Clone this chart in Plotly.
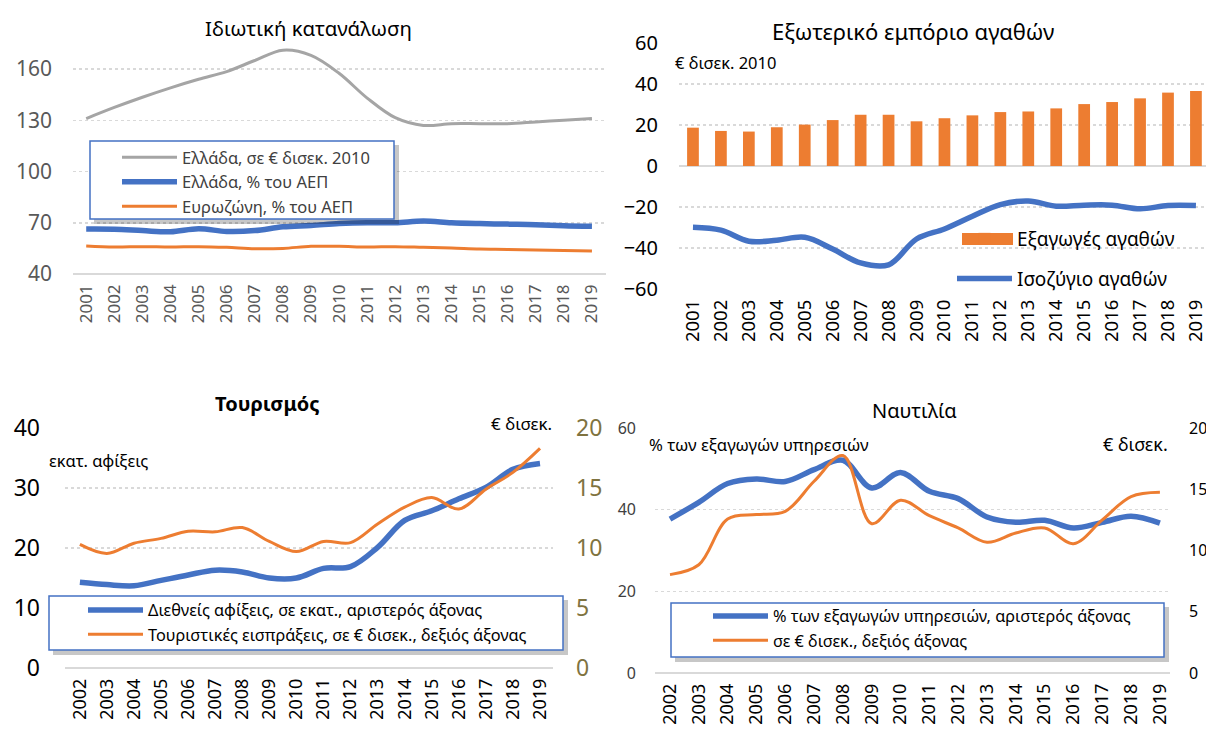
import plotly.graph_objects as go

# ---------------- data ----------------
years_a = list(range(2001, 2020))
years_b = list(range(2002, 2020))

cons_gr_eur = [131, 137.5, 143.5, 149, 154, 158.5, 165, 171, 168, 157.5, 143, 131.5, 127, 128, 128, 128, 129, 130, 131]
cons_gr_gdp = [66.3, 66.2, 65.4, 64.7, 66.5, 64.9, 65.4, 67.6, 68.4, 69.5, 70, 70, 71, 70, 69.5, 69.2, 68.9, 68.3, 68]
cons_ez_gdp = [56.4, 55.8, 56, 55.8, 56, 55.6, 54.8, 55, 56.2, 56.2, 55.8, 56, 55.6, 55.2, 54.6, 54.4, 54, 53.8, 53.4]

exports_goods = [18.7, 17.1, 16.8, 18.9, 20.2, 22.4, 25, 25, 21.8, 23.3, 24.7, 26.3, 26.6, 28.1, 30.2, 31.2, 33, 35.8, 36.6]
balance_goods = [-29.9, -31.3, -36.7, -36.2, -34.8, -40.5, -47.3, -48.2, -35.6, -30.7, -24.5, -18.8, -17.1, -19.6, -19.1, -19.1, -20.9, -19.3, -19.3]

tour_arrivals = [14.3, 13.9, 13.7, 14.6, 15.5, 16.3, 16.0, 15.0, 15.0, 16.6, 16.9, 20.1, 24.6, 26.2, 28.2, 30.1, 33.1, 34.1]
tour_receipts = [10.3, 9.55, 10.4, 10.8, 11.4, 11.35, 11.7, 10.55, 9.7, 10.55, 10.45, 12.0, 13.4, 14.2, 13.25, 14.9, 16.3, 18.3]

ship_share = [37.7, 41.8, 46.4, 47.5, 46.9, 49.8, 52.1, 45.3, 49.1, 44.5, 42.7, 38.2, 36.9, 37.4, 35.5, 36.9, 38.4, 36.7]
ship_eur = [8.03, 8.84, 12.57, 12.93, 13.2, 15.65, 17.75, 12.19, 14.1, 12.84, 11.84, 10.67, 11.43, 11.84, 10.56, 12.5, 14.4, 14.75]

# ---------------- style ----------------
W, H = 1206, 729
FONT = "Noto Sans"
BLUE = "#4472C4"
ORANGE = "#ED7D31"
GRAY = "#A5A5A5"
GRID = "#D9D9D9"
OLIVE = "#7F7340"


def X(px):
    return px / W


def Y(py):
    return 1 - py / H


fig = go.Figure()

# Panel 1
fig.add_trace(go.Scatter(x=years_a, y=cons_gr_eur, name="Ελλάδα, σε € δισεκ. 2010", mode="lines",
                         line=dict(color=GRAY, width=3, shape="spline"), xaxis="x", yaxis="y", legend="legend"))
fig.add_trace(go.Scatter(x=years_a, y=cons_gr_gdp, name="Ελλάδα, % του ΑΕΠ", mode="lines",
                         line=dict(color=BLUE, width=5.5, shape="spline"), xaxis="x", yaxis="y", legend="legend"))
fig.add_trace(go.Scatter(x=years_a, y=cons_ez_gdp, name="Ευρωζώνη, % του ΑΕΠ", mode="lines",
                         line=dict(color=ORANGE, width=3, shape="spline"), xaxis="x", yaxis="y", legend="legend"))

# Panel 2
fig.add_trace(go.Bar(x=years_a, y=exports_goods, name="Εξαγωγές αγαθών", width=0.42,
                     marker=dict(color=ORANGE, line=dict(width=0)),
                     xaxis="x2", yaxis="y2", legend="legend2", legendgroup="a"))
fig.add_trace(go.Scatter(x=years_a, y=balance_goods, name="Ισοζύγιο αγαθών", mode="lines",
                         line=dict(color=BLUE, width=5.5, shape="spline"), xaxis="x2", yaxis="y2",
                         legend="legend2", legendgroup="b"))

# Panel 3
fig.add_trace(go.Scatter(x=years_b, y=tour_arrivals, name="Διεθνείς αφίξεις, σε εκατ., αριστερός άξονας", mode="lines",
                         line=dict(color=BLUE, width=5.5, shape="spline"), xaxis="x3", yaxis="y3", legend="legend3"))
fig.add_trace(go.Scatter(x=years_b, y=tour_receipts, name="Τουριστικές εισπράξεις, σε € δισεκ., δεξιός άξονας", mode="lines",
                         line=dict(color=ORANGE, width=3, shape="spline"), xaxis="x3", yaxis="y4", legend="legend3"))

# Panel 4
fig.add_trace(go.Scatter(x=years_b, y=ship_share, name="% των εξαγωγών υπηρεσιών, αριστερός άξονας", mode="lines",
                         line=dict(color=BLUE, width=5.5, shape="spline"), xaxis="x4", yaxis="y5", legend="legend4"))
fig.add_trace(go.Scatter(x=years_b, y=ship_eur, name="σε € δισεκ., δεξιός άξονας", mode="lines",
                         line=dict(color=ORANGE, width=3, shape="spline"), xaxis="x4", yaxis="y6", legend="legend4"))


def xax(dom, rng, tick_years, size, color, anchor):
    return dict(domain=dom, range=rng, tickvals=tick_years, ticktext=[str(t) for t in tick_years],
                tickangle=-90, tickfont=dict(family=FONT, size=size, color=color), showgrid=False,
                zeroline=False, showline=False, ticks="", fixedrange=True, automargin=False,
                anchor=anchor, ticklabelstandoff=6, ticklabeloverflow="allow")


def yax(dom, rng, tv, size, color, anchor, side="left", overlaying=None, grid=True, standoff=8):
    d = dict(domain=dom, range=rng, tickvals=tv, tickfont=dict(family=FONT, size=size, color=color),
             showgrid=grid, gridcolor=GRID, griddash="dot", gridwidth=1.5, zeroline=False, showline=False,
             ticks="", side=side, ticklabelstandoff=standoff, fixedrange=True, automargin=False, anchor=anchor,
             ticklabeloverflow="allow")
    if overlaying:
        d["overlaying"] = overlaying
    return d


lay = dict(
    width=W, height=H, margin=dict(l=0, r=0, t=0, b=0, autoexpand=False),
    paper_bgcolor="white", plot_bgcolor="white",
    font=dict(family=FONT, color="#000000"),
    bargap=0.5, hovermode=False,
)

lay["xaxis"] = xax([X(73), X(606)], [2000.53, 2019.5], years_a, 17, "#595959", "y")
lay["yaxis"] = yax([Y(274), Y(43.4)], [40, 175], [40, 70, 100, 130, 160], 21, "#595959", "x", standoff=20)

lay["xaxis2"] = xax([X(679), 1.0], [2000.5, 2019.36], years_a, 18.5, "#000000", "y2")
lay["yaxis2"] = yax([Y(289), Y(43)], [-60, 60], [-60, -40, -20, 0, 20, 40, 60], 20, "#000000", "x2", standoff=20)
lay["yaxis2"]["zeroline"] = True
lay["yaxis2"]["zerolinecolor"] = GRID
lay["yaxis2"]["zerolinewidth"] = 2

lay["xaxis3"] = xax([X(65), X(553)], [2001.45, 2019.48], years_b, 18, "#000000", "y3")
lay["yaxis3"] = yax([Y(668), Y(428)], [0, 40], [0, 10, 20, 30, 40], 23, "#000000", "x3", standoff=24)
lay["yaxis4"] = yax([Y(668), Y(428)], [0, 20], [0, 5, 10, 15, 20], 23, OLIVE, "x3", side="right",
                    overlaying="y3", grid=False, standoff=22)

lay["xaxis4"] = xax([X(655), X(1170)], [2001.48, 2019.35], years_b, 18, "#000000", "y5")
lay["yaxis5"] = yax([Y(673), Y(428)], [0, 60], [0, 20, 40, 60], 16, "#404040", "x4", standoff=18)
lay["yaxis6"] = yax([Y(673), Y(428)], [0, 20], [0, 5, 10, 15, 20], 16, "#000000", "x4", side="right",
                    overlaying="y5", grid=False, standoff=18)

# Legends
common_leg = dict(bgcolor="rgba(0,0,0,0)", borderwidth=0, xanchor="left", yanchor="top",
                  itemclick=False, itemdoubleclick=False, tracegroupgap=0, itemwidth=55)
lay["legend"] = dict(common_leg, x=X(117), y=Y(140), font=dict(family=FONT, size=16.5, color="#404040"))
lay["legend2"] = dict(common_leg, x=X(952), y=Y(220), font=dict(family=FONT, size=19, color="#000000"),
                      tracegroupgap=12, traceorder="grouped")
lay["legend3"] = dict(common_leg, x=X(83), y=Y(593), font=dict(family=FONT, size=16.3, color="#000000"))
lay["legend4"] = dict(common_leg, x=X(708), y=Y(599), font=dict(family=FONT, size=16.3, color="#000000"))


def legend_box(x0, y0, x1, y1):
    return [
        dict(type="rect", xref="paper", yref="paper", x0=X(x0 + 4), x1=X(x1 + 5), y0=Y(y1 + 5), y1=Y(y0 + 4),
             fillcolor="rgba(0,0,0,0.22)", line=dict(width=0), layer="above"),
        dict(type="rect", xref="paper", yref="paper", x0=X(x0), x1=X(x1), y0=Y(y1), y1=Y(y0),
             fillcolor="white", line=dict(color=BLUE, width=1.5), layer="above"),
    ]


shapes = []
shapes += legend_box(90, 141, 394, 219)
shapes += legend_box(49, 596, 563, 650)
shapes += legend_box(671, 603, 1164, 657)
# wide bar swatch of the goods legend (Excel style)
shapes.append(dict(type="rect", xref="paper", yref="paper", x0=X(962), x1=X(1013), y0=Y(245), y1=Y(233),
                   fillcolor=ORANGE, line=dict(width=0), layer="above"))
# solid baselines
shapes += [
    dict(type="line", xref="paper", yref="paper", x0=X(73), x1=X(606), y0=Y(274), y1=Y(274),
         line=dict(color=GRID, width=2), layer="below"),
    dict(type="line", xref="paper", yref="paper", x0=X(65), x1=X(553), y0=Y(668), y1=Y(668),
         line=dict(color=GRID, width=2), layer="below"),
    dict(type="line", xref="paper", yref="paper", x0=X(655), x1=X(1170), y0=Y(673), y1=Y(673),
         line=dict(color=GRID, width=2), layer="below"),
]
lay["shapes"] = shapes


def ann(text, x, y, size, xanchor="center", bold=False, color="#000000"):
    return dict(text=("<b>%s</b>" % text) if bold else text, x=X(x), y=Y(y), xref="paper", yref="paper",
                xanchor=xanchor, yanchor="middle", showarrow=False,
                font=dict(family=FONT, size=size, color=color))


lay["annotations"] = [
    ann("Ιδιωτική κατανάλωση", 308, 28, 20.4),
    ann("Εξωτερικό εμπόριο αγαθών", 913, 31, 22),
    ann("€ δισεκ. 2010", 673, 63, 16.5, xanchor="left"),
    ann("Τουρισμός", 267, 403, 20, bold=True),
    ann("εκατ. αφίξεις", 47, 460, 16.5, xanchor="left"),
    ann("€ δισεκ.", 489, 423, 17, xanchor="left"),
    ann("Ναυτιλία", 914, 410, 20),
    ann("% των εξαγωγών υπηρεσιών", 647, 445, 16.7, xanchor="left"),
    ann("€ δισεκ.", 1101, 444, 18, xanchor="left"),
]

fig.update_layout(**lay)
fig.write_html(
    "out.html",
    config={"displayModeBar": False, "staticPlot": True},
    post_script="document.body.style.margin='0';document.body.style.overflow='hidden';",
)
